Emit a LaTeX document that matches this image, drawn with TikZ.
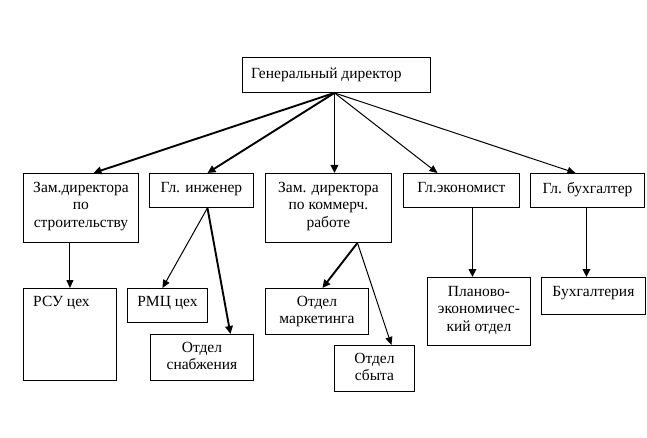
\documentclass[tikz,border=0pt]{standalone}
\usepackage{fontspec}
\setmainfont{Liberation Serif}
\usetikzlibrary{arrows.meta,calc}
\begin{document}
\begin{tikzpicture}[x=1pt,y=-1pt,
  box/.style={draw, line width=0.9pt, inner sep=0pt, anchor=north west},
  lbl/.style={inner sep=0pt, align=center, font=\fontsize{15.5}{17.5}\selectfont, anchor=north},
  lbll/.style={inner sep=0pt, align=left, font=\fontsize{15.5}{17.5}\selectfont, anchor=north west},
  thinarr/.style={line width=1pt, -{Triangle[length=8pt,width=7pt]}},
  thickarr/.style={line width=1.9pt, -{Triangle[length=8pt,width=7.5pt]}}]
\useasboundingbox (0,0) rectangle (647,438);
% boxes
\node[box, minimum width=188pt, minimum height=35pt] (gd) at (242,57) {};
\node[box, minimum width=115pt, minimum height=69pt] (zs) at (23,173) {};
\node[box, minimum width=104pt, minimum height=34pt] (gi) at (149,173) {};
\node[box, minimum width=126pt, minimum height=69pt] (km) at (265,173) {};
\node[box, minimum width=116pt, minimum height=34pt] (ge) at (403,173) {};
\node[box, minimum width=114pt, minimum height=34pt] (gb) at (530,173) {};
\node[box, minimum width=93pt, minimum height=92pt] (rsu) at (23,288) {};
\node[box, minimum width=80pt, minimum height=34pt] (rmc) at (127,288) {};
\node[box, minimum width=103pt, minimum height=46pt] (sn) at (150,334) {};
\node[box, minimum width=103pt, minimum height=46pt] (mk) at (265,288) {};
\node[box, minimum width=80pt, minimum height=46pt] (sb) at (334,345) {};
\node[box, minimum width=103pt, minimum height=68pt] (pl) at (427,277) {};
\node[box, minimum width=104pt, minimum height=37pt] (bh) at (541,277) {};
% texts
\node[lbll] (tgd) at ([xshift=9pt,yshift=-11pt]gd.north west) {Генеральный директор};
\node[lbl] (tzs) at ([yshift=-9pt]zs.north) {Зам.директора\\по\\строительству};
\node[lbl] (tgi) at ([yshift=-9pt]gi.north) {Гл. инженер};
\node[lbl] (tkm) at ([yshift=-9pt]km.north) {Зам. директора\\по коммерч.\\работе};
\node[lbl] (tge) at ([yshift=-9pt]ge.north) {Гл.экономист};
\node[lbl] (tgb) at ([yshift=-9pt]gb.north) {Гл. бухгалтер};
\node[lbll] (trsu) at ([xshift=10pt,yshift=-8pt]rsu.north west) {РСУ цех};
\node[lbl] (trmc) at ([yshift=-8pt]rmc.north) {РМЦ цех};
\node[lbl] (tsn) at ([yshift=-8pt]sn.north) {Отдел\\снабжения};
\node[lbl] (tmk) at ([yshift=-8pt]mk.north) {Отдел\\маркетинга};
\node[lbl] (tsb) at ([yshift=-8pt]sb.north) {Отдел\\сбыта};
\node[lbl] (tpl) at ([yshift=-9pt]pl.north) {Планово-\\экономичес-\\кий отдел};
\node[lbl] (tbh) at ([yshift=-9pt]bh.north) {Бухгалтерия};
% top-level connectors
\draw[thickarr] ([xshift=-2pt]gd.south) -- ([xshift=12.5pt]zs.north);
\draw[thickarr] ([xshift=-2pt]gd.south) -- ([xshift=6pt]gi.north);
\draw[thickarr] ([xshift=-2pt]gd.south) -- ([xshift=6pt]km.north);
\draw[thinarr] ([xshift=-2pt]gd.south) -- ([xshift=-24pt]ge.north);
\draw[thinarr] ([xshift=-2pt]gd.south) -- ([xshift=-12pt]gb.north);
% lower connectors
\draw[thinarr] (rsu.north |- zs.south) -- (rsu.north);
\draw[thinarr] ([xshift=6pt]gi.south) -- ([xshift=-5pt]rmc.north);
\draw[thickarr] ([xshift=6pt]gi.south) -- ([xshift=28.5pt]sn.north);
\draw[thickarr] ([xshift=29pt]km.south) -- ([xshift=5.5pt]mk.north);
\draw[thinarr] ([xshift=29pt]km.south) -- ([xshift=17pt]sb.north);
\draw[thickarr] ([xshift=11pt]ge.south) -- ([xshift=11pt]ge.south |- pl.north);
\draw[thickarr] ([xshift=-1pt]gb.south) -- ([xshift=-1pt]gb.south |- bh.north);
\end{tikzpicture}
\end{document}
